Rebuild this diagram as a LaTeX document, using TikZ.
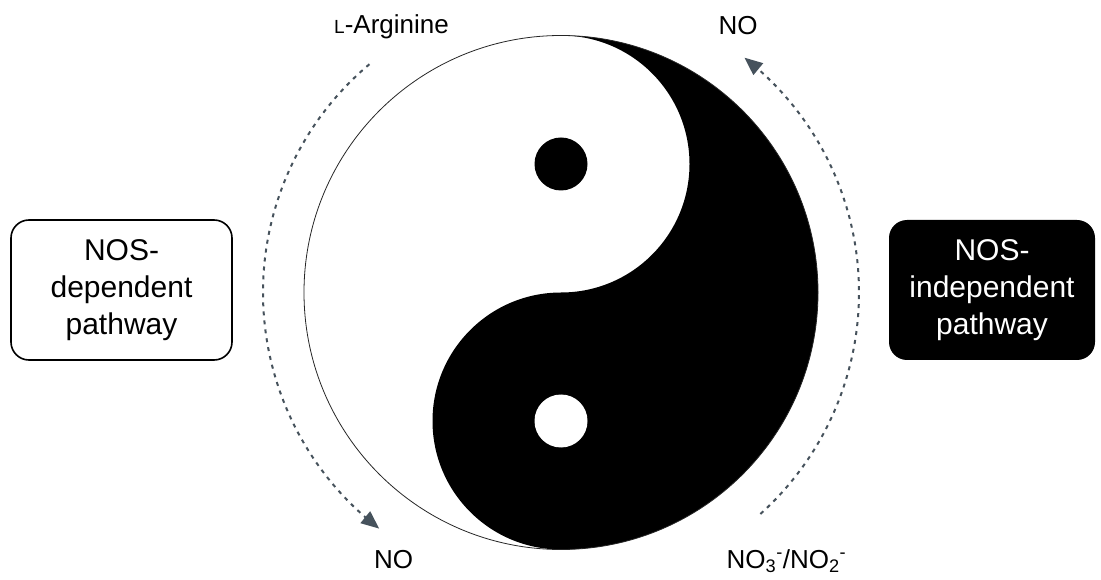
\documentclass[tikz,border=0pt]{standalone}
\usepackage{fontspec}
\setmainfont{Liberation Sans}
\usetikzlibrary{arrows.meta,bending}
\definecolor{arrowgray}{HTML}{46525C}
\begin{document}
\begin{tikzpicture}[x=1pt,y=1pt,
  lbl/.style={font=\fontsize{26}{30}\selectfont, inner sep=0pt, anchor=base},
  pathbox/.style={rounded corners=18pt, line width=1.6pt, minimum width=221pt,
    minimum height=140pt, align=center, font=\fontsize{30}{37}\selectfont},
  flow/.style={arrowgray, line width=2pt, dash pattern=on 4pt off 5pt,
    -{Triangle[length=18pt,width=15pt,flex]}}]
\useasboundingbox (0,0) rectangle (1101,579);

% yin-yang
\coordinate (c) at (561,286.5);
\fill[white] (c) circle[radius=257];
\fill[black] (561,543.5) arc[start angle=90, end angle=-90, radius=257]
  arc[start angle=-90, end angle=-270, radius=128.5]
  arc[start angle=-90, end angle=90, radius=128.5] -- cycle;
\draw[line width=0.8pt, black!85] (c) circle[radius=257];
\fill[black] (561,415) circle[radius=26.5];
\fill[white] (561,158) circle[radius=26.5];

% labels
\node[lbl] (arg) at (391.5,545) {{\fontsize{19}{20}\selectfont L}-Arginine};
\node[lbl] (notop) at (738,544) {NO};
\node[lbl] (nobot) at (393.5,11) {NO};
\node[lbl] (nox) at (786.5,11) {NO\textsubscript{3}\textsuperscript{-}/NO\textsubscript{2}\textsuperscript{-}};

% pathway boxes
\node[pathbox, draw=black, fill=white, text=black] (dep) at (121.5,289) {NOS-\\dependent\\pathway};
\node[pathbox, fill=black, text=white, minimum width=206pt] (indep) at (992,289) {NOS-\\independent\\pathway};

% dashed arcs
\path (c) ++(130:298) coordinate (l1);
\path (c) ++(-48:298) coordinate (r1);
\draw[flow] (l1) arc[start angle=130, end angle=232.4, radius=298];
\draw[flow] (r1) arc[start angle=-48, end angle=52, radius=298];
\end{tikzpicture}
\end{document}
